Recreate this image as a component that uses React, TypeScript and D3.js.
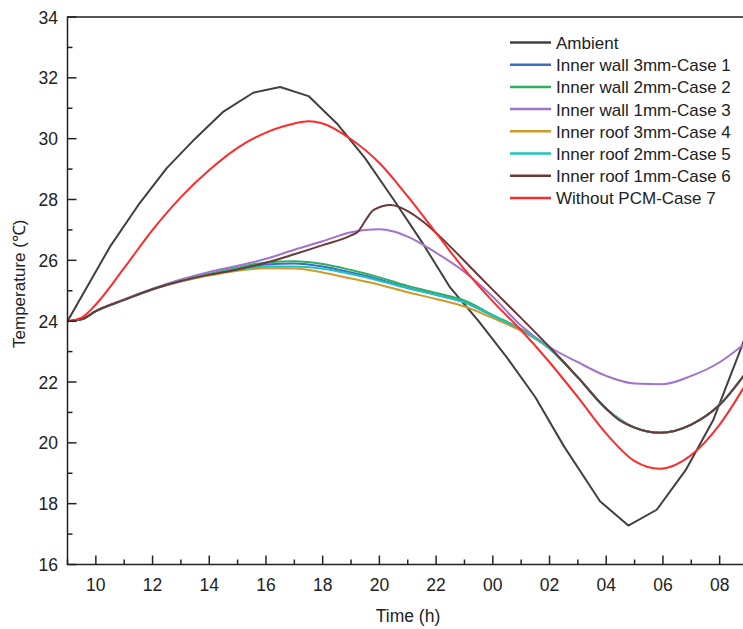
import React from "react";
import * as d3 from "d3";

const W = 743;
const H = 629;

const seriesNames = [
  "Ambient",
  "Inner wall 3mm-Case 1",
  "Inner wall 2mm-Case 2",
  "Inner wall 1mm-Case 3",
  "Inner roof 3mm-Case 4",
  "Inner roof 2mm-Case 5",
  "Inner roof 1mm-Case 6",
  "Without PCM-Case 7",
];
const seriesColors = ["#404040", "#3f6cc4", "#2fae5e", "#a073cf", "#cf9a2a", "#22c0c0", "#6a3a3a", "#ff2a2a"];

// time in hours (values above 24 = next day)
const ambient: [number, number][] = [
  [9, 24.0], [10.5, 26.45], [11.5, 27.82], [12.5, 29.03], [13.5, 30.0], [14.5, 30.89],
  [15.55, 31.51], [16.5, 31.7], [17.5, 31.4], [18.5, 30.5], [19.5, 29.35], [20.5, 28.0],
  [21.5, 26.6], [22.5, 25.1], [23.5, 24.0], [24.5, 22.8], [25.5, 21.5], [26.5, 19.9],
  [27.78, 18.08], [28.78, 17.28], [29.78, 17.8], [30.8, 19.1], [31.78, 20.76], [32.78, 23.17], [33.0, 23.75],
];

const case1: [number, number][] = [
  [9, 24.0], [9.5, 24.06], [10, 24.33], [11, 24.7], [12, 25.05], [13, 25.32], [14, 25.53], [15, 25.72],
  [16, 25.86], [17, 25.9], [18, 25.8], [19, 25.6], [20, 25.37], [21, 25.1], [22, 24.87], [23, 24.62],
  [24, 24.17], [25, 23.72], [26, 23.1], [27, 22.15], [28, 21.12], [29, 20.5], [29.9, 20.33],
  [31, 20.6], [32, 21.25], [33, 22.4],
];
const case2: [number, number][] = [
  [9, 24.0], [9.5, 24.06], [10, 24.33], [11, 24.7], [12, 25.05], [13, 25.33], [14, 25.56], [15, 25.76],
  [16, 25.93], [17, 25.97], [18, 25.88], [19, 25.68], [20, 25.44], [21, 25.16], [22, 24.93], [23, 24.68],
  [24, 24.2], [25, 23.74], [26, 23.1], [27, 22.15], [28, 21.12], [29, 20.5], [29.9, 20.33],
  [31, 20.6], [32, 21.25], [33, 22.4],
];
const case3: [number, number][] = [
  [9, 24.0], [9.5, 24.06], [10, 24.33], [11, 24.72], [12, 25.07], [13, 25.37], [14, 25.62], [15, 25.82],
  [16, 26.05], [17, 26.35], [18, 26.63], [19, 26.92], [19.5, 27.0], [20, 27.02], [20.5, 26.95], [21, 26.78],
  [22, 26.25], [23, 25.62], [24, 24.8], [25, 23.85], [26, 23.15], [27, 22.65], [28, 22.2], [29, 21.95],
  [30, 21.93], [31, 22.2], [32, 22.65], [33, 23.35],
];
const case4: [number, number][] = [
  [9, 24.0], [9.5, 24.06], [10, 24.33], [11, 24.7], [12, 25.04], [13, 25.3], [14, 25.5], [15, 25.66],
  [16, 25.74], [17, 25.73], [18, 25.6], [19, 25.4], [20, 25.2], [21, 24.95], [22, 24.73], [23, 24.48],
  [24, 24.1], [25, 23.68], [26, 23.1], [27, 22.15], [28, 21.12], [29, 20.5], [29.9, 20.33],
  [31, 20.6], [32, 21.25], [33, 22.4],
];
const case5: [number, number][] = [
  [9, 24.0], [9.5, 24.06], [10, 24.33], [11, 24.7], [12, 25.05], [13, 25.32], [14, 25.53], [15, 25.7],
  [16, 25.8], [17, 25.8], [18, 25.72], [19, 25.55], [20, 25.33], [21, 25.08], [22, 24.86], [23, 24.62],
  [24, 24.17], [25, 23.72], [26, 23.1], [27, 22.15], [28, 21.12], [29, 20.5], [29.9, 20.33],
  [31, 20.6], [32, 21.25], [33, 22.4],
];
const case6: [number, number][] = [
  [9, 24.0], [9.5, 24.06], [10, 24.33], [11, 24.7], [12, 25.05], [13, 25.32], [14, 25.53], [15, 25.7],
  [16, 25.92], [17, 26.2], [18, 26.5], [19, 26.82], [19.25, 26.95], [19.5, 27.3], [19.8, 27.66],
  [20.4, 27.82], [21, 27.62], [21.5, 27.3], [22, 26.9], [22.5, 26.45], [23, 25.98], [23.5, 25.5],
  [24, 25.03], [25, 24.1], [26, 23.15], [27, 22.15], [28, 21.12], [28.5, 20.72], [29, 20.5],
  [29.9, 20.33], [31, 20.6], [32, 21.25], [33, 22.4],
];
const case7: [number, number][] = [
  [9, 24.0], [9.5, 24.12], [10, 24.55], [11, 25.75], [12, 27.0], [13, 28.08], [14, 28.97], [15, 29.7],
  [16, 30.2], [17, 30.5], [17.5, 30.57], [18, 30.5], [19, 29.98], [20, 29.2], [21, 28.1], [22, 26.9],
  [23, 25.7], [24, 24.65], [25, 23.7], [26, 22.65], [27, 21.5], [28, 20.3], [29, 19.4], [29.9, 19.15],
  [31, 19.6], [32, 20.6], [33, 22.05],
];

const allSeries = [ambient, case1, case2, case3, case4, case5, case6, case7];

const xTickValues = [10, 12, 14, 16, 18, 20, 22, 24, 26, 28, 30, 32];
const xTickLabels = ["10", "12", "14", "16", "18", "20", "22", "00", "02", "04", "06", "08"];
const yTickValues = [16, 18, 20, 22, 24, 26, 28, 30, 32, 34];

export default function App() {
  const left = 67.5;
  const right = 748;
  const top = 17;
  const bottom = 564.5;
  const x = d3.scaleLinear().domain([9, 33]).range([left, right]);
  const y = d3.scaleLinear().domain([16, 34]).range([bottom, top]);

  const smooth = d3.line<[number, number]>().x((d) => x(d[0])).y((d) => y(d[1])).curve(d3.curveMonotoneX);
  const straight = d3.line<[number, number]>().x((d) => x(d[0])).y((d) => y(d[1]));

  const minorX = d3.range(9, 34, 1).filter((v) => v % 2 === 1);
  const minorY = d3.range(17, 34, 2);
  const font = "'Liberation Sans', Arial, sans-serif";

  return (
    <svg width={W} height={H} style={{ position: "absolute", left: 0, top: 0, background: "#fff" }} fontFamily={font}>
      <defs>
        <clipPath id="plotclip">
          <rect x={left} y={top} width={right - left} height={bottom - top} />
        </clipPath>
      </defs>
      <g clipPath="url(#plotclip)">
        {allSeries.map((s, i) => (
          <path
            key={i}
            d={(i === 0 ? straight(s) : smooth(s)) || ""}
            fill="none"
            stroke={seriesColors[i]}
            strokeWidth={2}
            strokeLinejoin="round"
          />
        ))}
      </g>
      {/* frame */}
      <rect x={left} y={top} width={right - left} height={bottom - top} fill="none" stroke="#222" strokeWidth={1.5} />
      {/* x ticks */}
      {xTickValues.map((v, i) => (
        <g key={"xt" + v}>
          <line x1={x(v)} x2={x(v)} y1={bottom} y2={bottom - 9} stroke="#222" strokeWidth={1.5} />
          <text x={x(v)} y={591} textAnchor="middle" fontSize={17.5} fill="#222">
            {xTickLabels[i]}
          </text>
        </g>
      ))}
      {minorX.map((v) => (
        <line key={"xm" + v} x1={x(v)} x2={x(v)} y1={bottom} y2={bottom - 5} stroke="#222" strokeWidth={1.5} />
      ))}
      {/* y ticks */}
      {yTickValues.map((v) => (
        <g key={"yt" + v}>
          <line x1={left} x2={left + 9} y1={y(v)} y2={y(v)} stroke="#222" strokeWidth={1.5} />
          <text x={58} y={y(v) + 6.5} textAnchor="end" fontSize={17.5} fill="#222">
            {v}
          </text>
        </g>
      ))}
      {minorY.map((v) => (
        <line key={"ym" + v} x1={left} x2={left + 5} y1={y(v)} y2={y(v)} stroke="#222" strokeWidth={1.5} />
      ))}
      <text x={408} y={622} textAnchor="middle" fontSize={17.5} fill="#222">
        Time (h)
      </text>
      <text transform={`translate(25,${(top + bottom) / 2 - 7}) rotate(-90)`} textAnchor="middle" fontSize={17} fill="#222">
        Temperature (℃)
      </text>
      {/* legend */}
      {seriesNames.map((n, i) => (
        <g key={"lg" + i}>
          <line x1={510} x2={551} y1={42.5 + i * 22.2} y2={42.5 + i * 22.2} stroke={seriesColors[i]} strokeWidth={2.5} />
          <text x={556} y={42.5 + i * 22.2 + 6.5} fontSize={17} fill="#222">
            {n}
          </text>
        </g>
      ))}
    </svg>
  );
}
